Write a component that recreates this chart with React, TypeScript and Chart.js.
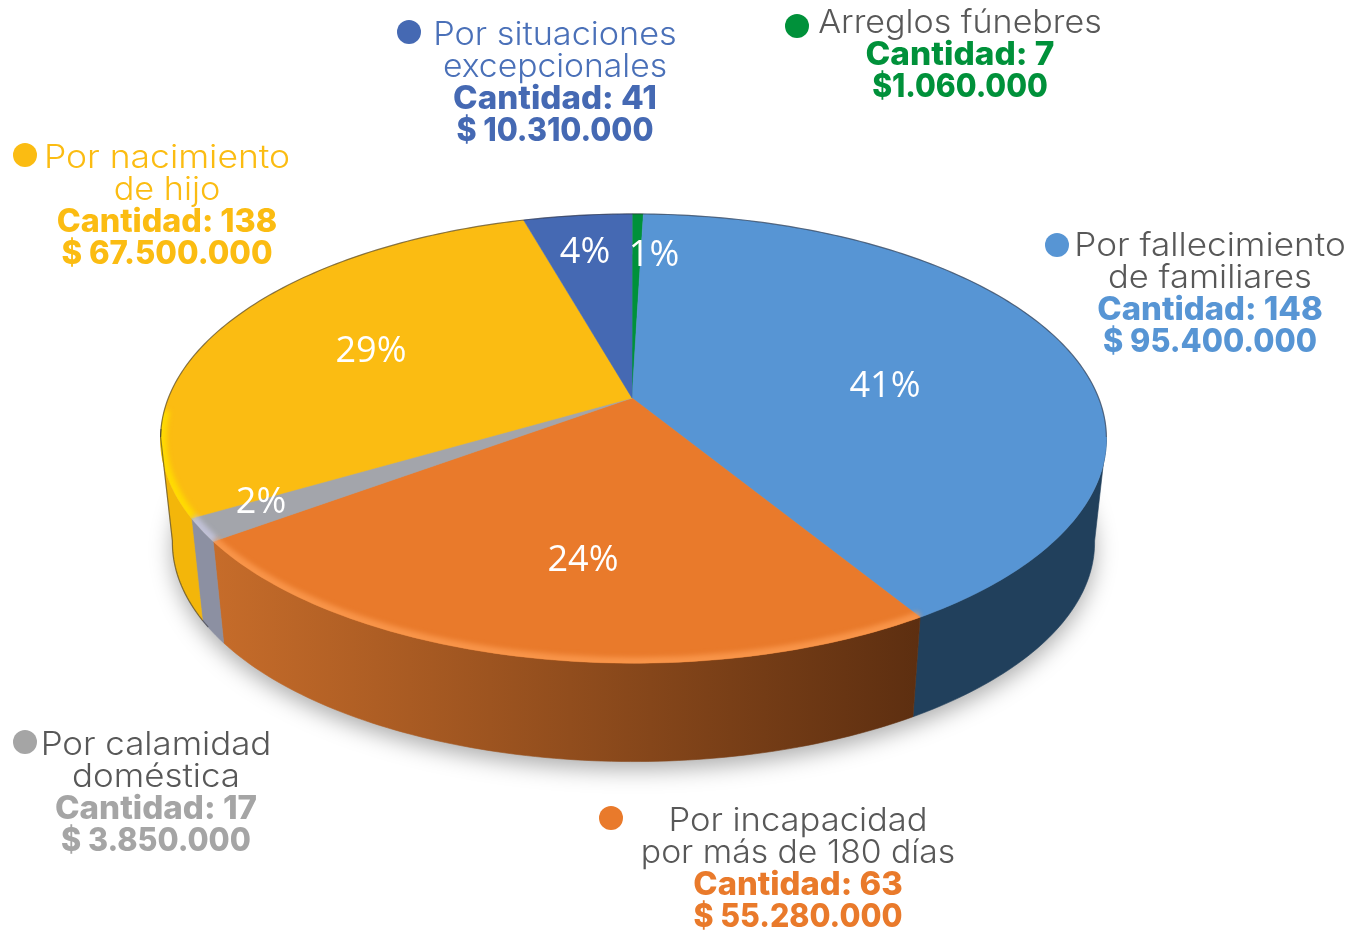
import React, { useEffect, useLayoutEffect, useRef } from "react";
import { Chart, registerables } from "chart.js";

Chart.register(...registerables);

// ---- data
const categories = [
  "Arreglos fúnebres",
  "Por fallecimiento de familiares",
  "Por incapacidad por más de 180 días",
  "Por calamidad doméstica",
  "Por nacimiento de hijo",
  "Por situaciones excepcionales",
];
const amounts = [1060000, 95400000, 55280000, 3850000, 67500000, 10310000];
const percentLabels = ["1%", "41%", "24%", "2%", "29%", "4%"];
const sliceColors = ["#00913A", "#5795D4", "#E97A2B", "#A3A5AB", "#FBBC12", "#4569B3"];

// ---- layout / style (not data)
const W = 1363;
const H = 930;
const percentAnchors = [
  [654, 256],
  [885, 387],
  [583, 561],
  [261, 503],
  [371, 352],
  [585, 253],
];
const wallStops: string[][] = [
  ["#00602a", "#00602a"],
  ["#21405C", "#21405C"],
  ["#C66C2A", "#5C2E10"],
  ["#8C90A2", "#8C90A2"],
  ["#F3B60A", "#E8AE08"],
  ["#2a4270", "#2a4270"],
];
const rimColors = [null, null, "rgba(255,160,85,0.7)", "rgba(200,200,225,0.8)", "rgba(255,222,0,0.9)", null];

type Line = { t: string; bold?: boolean; c: string; y: number; w: number };
type Block = { x: number; dot: [number, number]; dotColor: string; lines: Line[] };
const GREY = "#585858";
const blocks: Block[] = [
  {
    x: 555, dot: [409, 32], dotColor: "#4569B3",
    lines: [
      { t: "Por situaciones", c: "#4A70B8", y: 34, w: 244 },
      { t: "excepcionales", c: "#4A70B8", y: 66, w: 224 },
      { t: "Cantidad: 41", bold: true, c: "#4569B3", y: 98, w: 204 },
      { t: "$ 10.310.000", bold: true, c: "#4569B3", y: 130, w: 197 },
    ],
  },
  {
    x: 960, dot: [797, 26], dotColor: "#00913A",
    lines: [
      { t: "Arreglos fúnebres", c: GREY, y: 22, w: 284 },
      { t: "Cantidad: 7", bold: true, c: "#00913A", y: 54, w: 189 },
      { t: "$1.060.000", bold: true, c: "#00913A", y: 86, w: 176 },
    ],
  },
  {
    x: 1210, dot: [1057, 245], dotColor: "#5795D4",
    lines: [
      { t: "Por fallecimiento", c: GREY, y: 245, w: 271 },
      { t: "de familiares", c: GREY, y: 277, w: 204 },
      { t: "Cantidad: 148", bold: true, c: "#5795D4", y: 309, w: 226 },
      { t: "$ 95.400.000", bold: true, c: "#5795D4", y: 341, w: 214 },
    ],
  },
  {
    x: 167, dot: [25, 155], dotColor: "#FBBC12",
    lines: [
      { t: "Por nacimiento", c: "#FBBC12", y: 157, w: 246 },
      { t: "de hijo", c: "#FBBC12", y: 189, w: 107 },
      { t: "Cantidad: 138", bold: true, c: "#FBBC12", y: 221, w: 221 },
      { t: "$ 67.500.000", bold: true, c: "#FBBC12", y: 253, w: 211 },
    ],
  },
  {
    x: 156, dot: [25, 742], dotColor: "#A5A5A5",
    lines: [
      { t: "Por calamidad", c: GREY, y: 744, w: 231 },
      { t: "doméstica", c: GREY, y: 776, w: 168 },
      { t: "Cantidad: 17", bold: true, c: "#A5A5A5", y: 808, w: 202 },
      { t: "$ 3.850.000", bold: true, c: "#A5A5A5", y: 840, w: 190 },
    ],
  },
  {
    x: 798, dot: [611, 818], dotColor: "#E97A2B",
    lines: [
      { t: "Por incapacidad", c: GREY, y: 820, w: 259 },
      { t: "por más de 180 días", c: GREY, y: 852, w: 314 },
      { t: "Cantidad: 63", bold: true, c: "#E97A2B", y: 884, w: 209 },
      { t: "$ 55.280.000", bold: true, c: "#E97A2B", y: 916, w: 209 },
    ],
  },
];

// perspective model of the disc
const CX = 633.5;
const APEX_Y = 398;
const D = 5.54;
const F = 2577;
const G = 1204;
const BOTTOM_SCALE = 0.975;
const BOTTOM_APEX_Y = 503;
const WALL_FROM = (100 * Math.PI) / 180;
const WALL_TO = (260 * Math.PI) / 180;

function projTop(theta: number): [number, number] {
  const X = Math.sin(theta);
  const Z = -Math.cos(theta);
  const w = D - Z;
  return [CX + (F * X) / w, APEX_Y + (G * Z) / w];
}
function projBottom(theta: number): [number, number] {
  const [x, y] = projTop(theta);
  return [CX + (x - CX) * BOTTOM_SCALE, BOTTOM_APEX_Y + (y - APEX_Y) * BOTTOM_SCALE];
}

const STEP = Math.PI / 180;

function trace(ctx: CanvasRenderingContext2D, fn: (t: number) => [number, number], a: number, b: number, first: boolean) {
  const n = Math.max(2, Math.ceil(Math.abs(b - a) / STEP));
  for (let i = 0; i <= n; i++) {
    const [x, y] = fn(a + ((b - a) * i) / n);
    if (i === 0 && first) ctx.moveTo(x, y);
    else ctx.lineTo(x, y);
  }
}

const pie3d = {
  id: "pie3d",
  beforeDatasetDraw(chart: any) {
    const ctx: CanvasRenderingContext2D = chart.ctx;
    const meta = chart.getDatasetMeta(0);
    const arcs = meta.data.map((el: any, i: number) => ({
      a: el.startAngle + Math.PI / 2,
      b: el.endAngle + Math.PI / 2,
      color: el.options.backgroundColor,
      i,
    }));

    // soft shadow below the disc
    ctx.save();
    ctx.filter = "blur(11px)";
    ctx.fillStyle = "rgba(0,0,0,0.32)";
    ctx.beginPath();
    for (let t = 0; t < 360; t += 2) {
      const [x, y] = projBottom(t * STEP);
      if (t === 0) ctx.moveTo(x, y + 8);
      else ctx.lineTo(x, y + 8);
    }
    ctx.closePath();
    ctx.fill();
    ctx.restore();

    // side walls (front half only, one path per slice so that no seams appear)
    arcs.forEach(({ a, b, i }: any) => {
      const from = Math.max(a, WALL_FROM);
      const to = Math.min(b, WALL_TO);
      if (to <= from) return;
      const grad = ctx.createLinearGradient(215, 0, 925, 0);
      grad.addColorStop(0, wallStops[i][0]);
      grad.addColorStop(1, wallStops[i][1]);
      ctx.beginPath();
      trace(ctx, projTop, from, to, true);
      trace(ctx, projBottom, to, from, false);
      ctx.closePath();
      ctx.fillStyle = grad;
      ctx.strokeStyle = grad;
      ctx.lineWidth = 0.6;
      ctx.fill();
      ctx.stroke();
    });

    // top faces
    arcs.forEach(({ a, b, color }: any) => {
      ctx.beginPath();
      ctx.moveTo(CX - 1.5, APEX_Y);
      trace(ctx, projTop, a, b, false);
      ctx.closePath();
      ctx.fillStyle = color;
      ctx.fill();
      ctx.strokeStyle = color;
      ctx.lineWidth = 0.5;
      ctx.stroke();
    });

    // bevel highlight along the front rim
    ctx.save();
    ctx.beginPath();
    trace(ctx, projTop, 0, Math.PI * 2, true);
    ctx.closePath();
    ctx.clip();
    ctx.filter = "blur(2.5px)";
    arcs.forEach(({ a, b, i }: any) => {
      const c = rimColors[i];
      if (!c) return;
      const from = Math.max(a, WALL_FROM);
      const to = Math.min(b, WALL_TO + 0.12);
      ctx.beginPath();
      trace(ctx, projTop, from, to, true);
      ctx.strokeStyle = c;
      ctx.lineWidth = 12;
      ctx.stroke();
    });
    ctx.restore();

    // thin dark outline on the far rim and down the left wall
    ctx.save();
    ctx.strokeStyle = "rgba(40,40,50,0.55)";
    ctx.lineWidth = 1.2;
    ctx.beginPath();
    trace(ctx, projTop, -100 * STEP, 100 * STEP, true);
    ctx.stroke();
    ctx.beginPath();
    trace(ctx, projBottom, 238 * STEP, 260 * STEP, true);
    trace(ctx, projTop, 260 * STEP, 262 * STEP, false);
    ctx.stroke();
    ctx.restore();

    return false;
  },
  afterDatasetsDraw(chart: any) {
    const ctx: CanvasRenderingContext2D = chart.ctx;
    ctx.save();
    ctx.font = '400 36px "Open Sans"';
    ctx.fillStyle = "#ffffff";
    ctx.textAlign = "center";
    ctx.textBaseline = "middle";
    percentLabels.forEach((t, i) => {
      ctx.fillText(t, percentAnchors[i][0], percentAnchors[i][1]);
    });
    ctx.restore();
  },
};

export default function App() {
  const ref = useRef<HTMLCanvasElement>(null);
  const root = useRef<HTMLDivElement>(null);
  useLayoutEffect(() => {
    root.current!.querySelectorAll<HTMLElement>("[data-w]").forEach((el) => {
      const scale = Number(el.dataset.w) / el.offsetWidth;
      el.style.transform = `translate(-50%,-50%) scaleX(${scale})`;
    });
  }, []);
  useEffect(() => {
    const chart = new Chart(ref.current!, {
      type: "pie",
      data: {
        labels: categories,
        datasets: [{ data: amounts, backgroundColor: sliceColors, borderWidth: 0 }],
      },
      options: {
        responsive: false,
        animation: false,
        rotation: -0.2,
        plugins: { legend: { display: false }, tooltip: { enabled: false } },
      },
      plugins: [pie3d],
    } as any);
    return () => chart.destroy();
  }, []);
  return (
    <div ref={root} style={{ position: "absolute", left: 0, top: 0, width: W, height: H, overflow: "hidden", background: "#fff" }}>
      <canvas ref={ref} width={W} height={H} style={{ position: "absolute", left: 0, top: 0 }} />
      {blocks.map((b, i) => (
        <React.Fragment key={i}>
          <div
            style={{
              position: "absolute",
              left: b.dot[0] - 12,
              top: b.dot[1] - 12,
              width: 24,
              height: 24,
              borderRadius: "50%",
              background: b.dotColor,
            }}
          />
          {b.lines.map((l, j) => (
            <div
              key={j}
              data-w={l.w}
              style={{
                position: "absolute",
                left: b.x,
                top: l.y,
                transform: "translate(-50%,-50%)",
                whiteSpace: "nowrap",
                fontFamily: "Inter, sans-serif",
                fontWeight: l.bold ? 800 : 300,
                fontSize: 32,
                lineHeight: "32px",
                color: l.c,
              }}
            >
              {l.t}
            </div>
          ))}
        </React.Fragment>
      ))}
    </div>
  );
}
